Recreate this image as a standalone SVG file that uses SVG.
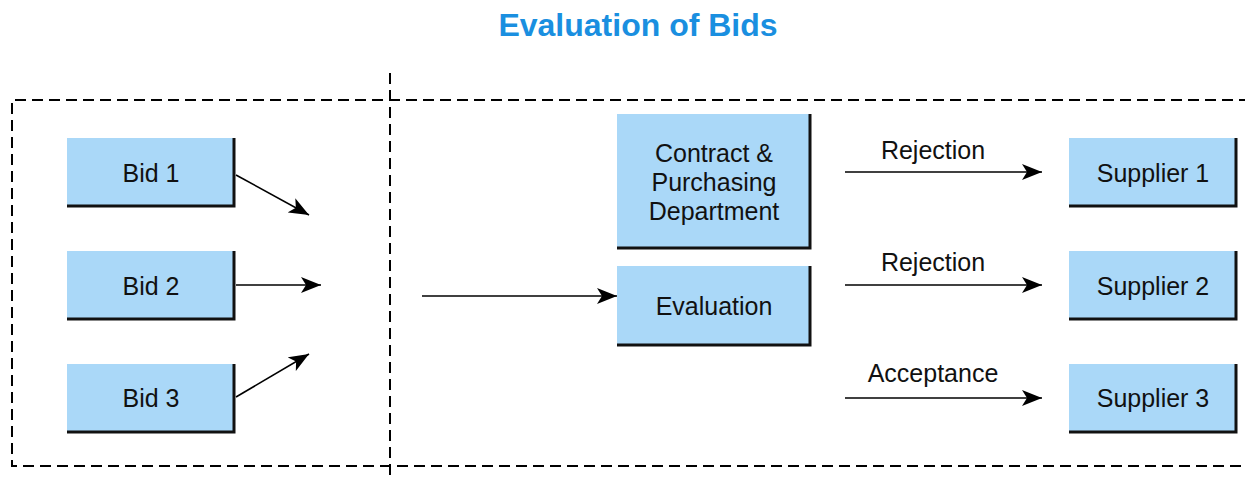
<svg xmlns="http://www.w3.org/2000/svg" width="1245" height="484" viewBox="0 0 1245 484">
<style>
.box{fill:#aad8f8}
.sh{fill:none;stroke:#111;stroke-width:3}
.t{font-family:"Liberation Sans",Arial,sans-serif;font-size:25px;fill:#111;text-anchor:middle}
.c{stroke:#000;stroke-width:1.6;fill:none;marker-end:url(#ah)}
.d{stroke:#000;stroke-width:2;fill:none;stroke-dasharray:11,6}
</style>
<defs>
<marker id="ah" markerWidth="22" markerHeight="16" refX="20" refY="8" orient="auto" markerUnits="userSpaceOnUse">
<path d="M0,0 L20,8 L0,16 L5,8 Z" fill="#000"/>
</marker>
</defs>
<rect width="1245" height="484" fill="#fff"/>
<text x="638" y="36" font-family="Liberation Sans,Arial,sans-serif" font-size="32" font-weight="bold" fill="#1a8fe0" text-anchor="middle">Evaluation of Bids</text>
<g id="frame">
<path class="d" d="M1250,100 H12 V466 H1250"/>
<path class="d" d="M390,73 V480" stroke-dasharray="14,6"/>
</g>
<g id="bid1"><rect class="box" x="67" y="138" width="168" height="69"/><path class="sh" d="M67,206 H234 V138"/><text class="t" x="151" y="182">Bid 1</text></g>
<g id="bid2"><rect class="box" x="67" y="251" width="168" height="69"/><path class="sh" d="M67,319 H234 V251"/><text class="t" x="151" y="295">Bid 2</text></g>
<g id="bid3"><rect class="box" x="67" y="364" width="168" height="69"/><path class="sh" d="M67,432 H234 V364"/><text class="t" x="151" y="407">Bid 3</text></g>
<g id="contract"><rect class="box" x="617" y="114" width="194" height="135"/><path class="sh" d="M617,248 H810 V114"/>
<text class="t" x="714" y="162">Contract &amp;</text><text class="t" x="714" y="191">Purchasing</text><text class="t" x="714" y="220">Department</text></g>
<g id="evaluation"><rect class="box" x="617" y="266" width="194" height="80"/><path class="sh" d="M617,345 H810 V266"/><text class="t" x="714" y="315">Evaluation</text></g>
<g id="supplier1"><rect class="box" x="1069" y="138" width="168" height="69"/><path class="sh" d="M1069,206 H1236 V138"/><text class="t" x="1153" y="182">Supplier 1</text></g>
<g id="supplier2"><rect class="box" x="1069" y="251" width="168" height="69"/><path class="sh" d="M1069,319 H1236 V251"/><text class="t" x="1153" y="295">Supplier 2</text></g>
<g id="supplier3"><rect class="box" x="1069" y="364" width="168" height="69"/><path class="sh" d="M1069,432 H1236 V364"/><text class="t" x="1153" y="407">Supplier 3</text></g>
<g id="connectors">
<line class="c" x1="236" y1="175" x2="309" y2="215"/>
<line class="c" x1="236" y1="285" x2="321" y2="285"/>
<line class="c" x1="236" y1="397" x2="309" y2="354"/>
<line class="c" x1="422" y1="296" x2="617" y2="296"/>
<line class="c" x1="845" y1="172" x2="1042" y2="172"/>
<line class="c" x1="845" y1="285" x2="1042" y2="285"/>
<line class="c" x1="845" y1="398" x2="1042" y2="398"/>
<text class="t" x="933" y="159">Rejection</text>
<text class="t" x="933" y="271">Rejection</text>
<text class="t" x="933" y="382">Acceptance</text>
</g>
</svg>
